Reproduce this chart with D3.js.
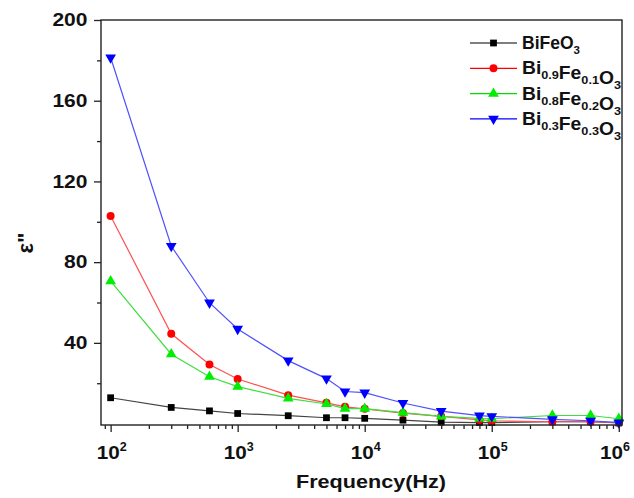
<!DOCTYPE html>
<html lang="en">
<head>
    <meta charset="UTF-8">
    <title>Dielectric loss vs frequency</title>
    <style>
        body { margin: 0; background: #fff; }
        text { font-family: "Liberation Sans", Arial, sans-serif; font-weight: bold; fill: #111; }
    </style>
</head>
<body>
<svg id="chart" width="634" height="498"></svg>
<script src="https://d3js.org/d3.v7.min.js"></script>

<script>
    /* global d3 */

    // frequency points (Hz)
    let freq = [100, 300, 600, 1000, 2500, 5000, 7000, 10000, 20000, 40000, 80000, 100000, 300000, 600000, 1000000];

    // epsilon'' for each composition
    let bifeo3 = [12.8, 8.0, 6.3, 5.0, 3.9, 2.9, 2.9, 2.6, 1.7, 0.7, 0.5, 0.5, 0.9, 0.9, 0.3];
    let bi09 = [102.9, 44.5, 29.3, 22.1, 14.1, 10.3, 8.3, 7.3, 5.2, 3.6, 1.8, 1.4, 0.9, 0.9, 0.5];
    let bi08 = [70.6, 34.4, 23.2, 18.3, 12.5, 9.7, 7.4, 7.4, 5.4, 3.6, 2.6, 2.4, 4.0, 4.0, 2.4];
    let bi03 = [181.4, 88.0, 59.9, 46.9, 31.2, 22.3, 15.9, 15.3, 10.2, 6.2, 3.9, 3.6, 2.1, 1.4, 0.5];

    let yMajor = [40, 80, 120, 160, 200];
    let yMinor = [20, 60, 100, 140, 180];
    let xMajor = [100, 1000, 10000, 100000, 1000000];

    let series = [
        {name: [["BiFeO", "3"]], values: bifeo3, marker: "square", fill: "#000", line: "#444", key: "#000", len: 58},
        {name: [["Bi", "0.9"], ["Fe", "0.1"], ["O", "3"]], values: bi09, marker: "circle", fill: "#ff0000", line: "#ff5050", key: "#ff0000", len: 99},
        {name: [["Bi", "0.8"], ["Fe", "0.2"], ["O", "3"]], values: bi08, marker: "up", fill: "#00ee00", line: "#40dd40", key: "#00dd00", len: 99},
        {name: [["Bi", "0.3"], ["Fe", "0.3"], ["O", "3"]], values: bi03, marker: "down", fill: "#0000ff", line: "#5050ff", key: "#0000ff", len: 99}
    ];

    let svg = d3.select("#chart"),
        mLeft = 101, mRight = 622, mTop = 20, mBottom = 425;

    let x = d3.scaleLog().domain([84, 1.06e6]).range([mLeft, mRight]),
        y = d3.scaleLinear().domain([-0.7, 200]).range([mBottom, mTop]);

    function symbolFor(m) {
        if (m === "square") return d3.symbol(d3.symbolSquare, 46)();
        if (m === "circle") return d3.symbol(d3.symbolCircle, 50)();
        return d3.symbol(d3.symbolTriangle, 50)();
    }

    function addMarker(g, s, px, py) {
        g.append("path")
            .attr("d", symbolFor(s.marker))
            .attr("transform", "translate(" + px + "," + py + ")" + (s.marker === "down" ? " rotate(180)" : ""))
            .attr("fill", s.fill);
    }

    // series
    let line = d3.line()
        .x(function (d) { return x(d[0]); })
        .y(function (d) { return y(d[1]); });

    series.forEach(function (s) {
        let pts = freq.map(function (f, i) { return [f, s.values[i]]; });
        let g = svg.append("g");
        g.append("path")
            .attr("d", line(pts))
            .attr("fill", "none")
            .attr("stroke", s.line)
            .attr("stroke-width", 1.2);
        pts.forEach(function (p) {
            addMarker(g, s, x(p[0]), y(p[1]));
        });
    });

    // frame
    svg.append("rect")
        .attr("x", mLeft).attr("y", mTop)
        .attr("width", mRight - mLeft).attr("height", mBottom - mTop)
        .attr("fill", "none").attr("stroke", "#222").attr("stroke-width", 1.4);

    // y axis
    let yAxis = svg.append("g").attr("transform", "translate(" + mLeft + ",0)");
    yAxis.call(d3.axisLeft(y).tickValues(yMajor).tickSize(7).tickPadding(6.5));
    yAxis.append("g").call(d3.axisLeft(y).tickValues(yMinor).tickSize(4).tickFormat(""));
    yAxis.selectAll(".domain").remove();
    yAxis.selectAll("line").attr("stroke", "#222").attr("stroke-width", 1.3);
    yAxis.selectAll("text")
        .attr("font-size", 18)
        .attr("fill", "#111")
        .attr("font-family", "Liberation Sans, Arial, sans-serif")
        .attr("textLength", function (d) { return String(d).length * 11.7; })
        .attr("lengthAdjust", "spacingAndGlyphs");

    // x axis
    let xMinor = x.ticks().filter(function (v) { return xMajor.indexOf(v) < 0 && v >= 84; });
    let xAxis = svg.append("g").attr("transform", "translate(0," + mBottom + ")");
    xAxis.call(d3.axisBottom(x).tickValues(xMajor).tickSize(7).tickFormat(""));
    xAxis.append("g").call(d3.axisBottom(x).tickValues(xMinor).tickSize(4).tickFormat(""));
    xAxis.selectAll(".domain").remove();
    xAxis.selectAll("line").attr("stroke", "#222").attr("stroke-width", 1.3);

    xMajor.forEach(function (v) {
        let t = svg.append("text")
            .attr("x", Math.min(x(v) + 1, 615))
            .attr("y", 459)
            .attr("text-anchor", "middle")
            .attr("font-size", 18);
        t.append("tspan").attr("textLength", 23).attr("lengthAdjust", "spacingAndGlyphs").text("10");
        t.append("tspan").attr("font-size", 12.5).attr("dy", -8).text(Math.round(Math.log10(v)));
    });

    // axis titles
    svg.append("text")
        .attr("x", 371).attr("y", 488)
        .attr("text-anchor", "middle")
        .attr("font-size", 18)
        .attr("textLength", 150)
        .attr("lengthAdjust", "spacingAndGlyphs")
        .text("Frequency(Hz)");

    svg.append("text")
        .attr("transform", "translate(33,243) rotate(-90)")
        .attr("text-anchor", "middle")
        .attr("font-size", 22)
        .text("ε\"");

    // legend
    let legend = svg.append("g");
    series.forEach(function (s, i) {
        let cy = 43 + i * 25.3;
        legend.append("line")
            .attr("x1", 470).attr("x2", 517)
            .attr("y1", cy).attr("y2", cy)
            .attr("stroke", s.key)
            .attr("stroke-width", 1.2);
        addMarker(legend, s, 493.5, cy);
        let t = legend.append("text")
            .attr("x", 522)
            .attr("y", cy + 6)
            .attr("font-size", 17.5)
            .attr("textLength", s.len)
            .attr("lengthAdjust", "spacingAndGlyphs");
        s.name.forEach(function (part) {
            t.append("tspan").text(part[0]);
            if (part[1]) {
                t.append("tspan").attr("font-size", 11.5).attr("dy", 5).text(part[1]);
                t.append("tspan").attr("dy", -5).text("");
            }
        });
    });
</script>
</body>
</html>
